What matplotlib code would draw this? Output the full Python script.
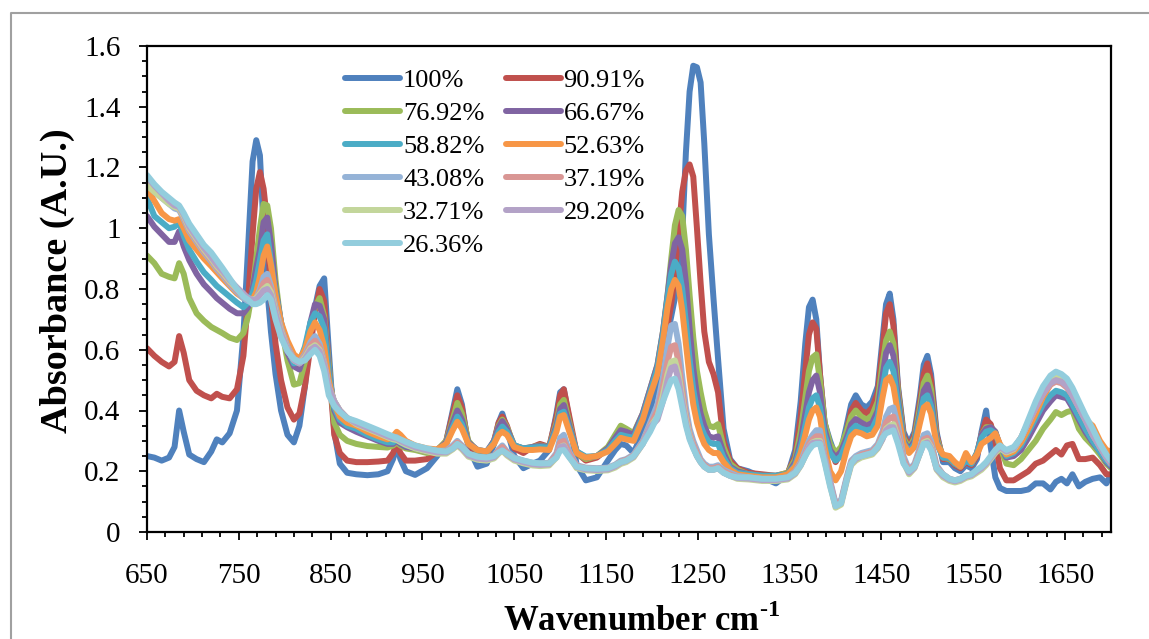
import matplotlib
matplotlib.use("Agg")
import matplotlib.pyplot as plt
from matplotlib.lines import Line2D
from matplotlib.ticker import FixedLocator, FuncFormatter
import numpy as np

plt.rcParams["font.family"] = ["Liberation Serif", "DejaVu Serif"]
plt.rcParams["mathtext.fontset"] = "custom"
plt.rcParams["mathtext.rm"] = "Liberation Serif"
plt.rcParams["mathtext.bf"] = "Liberation Serif:bold"

# --------------------------------------------------
# FTIR spectra, absorbance vs. wavenumber (cm-1)
# --------------------------------------------------
wavenumber = [
    650, 658, 666, 674, 680, 685, 690, 696, 704, 712, 720, 726, 732, 740, 748, 755,
    760, 765, 769, 773, 777, 781, 785, 790, 796, 803, 810, 816, 822, 828, 833, 838, 843, 848, 854, 860, 868,
    878, 890, 902, 912, 918, 922, 926, 932, 942, 955, 966, 976, 983, 988, 993, 1000, 1010, 1020, 1028, 1033,
    1037, 1042, 1050, 1060, 1070, 1078, 1088, 1096, 1100, 1104, 1110, 1118, 1128, 1140, 1152, 1160, 1166,
    1172, 1180, 1190, 1198,
    1206, 1212, 1217, 1221, 1225, 1229, 1233, 1237, 1241, 1245, 1249, 1253, 1257, 1262, 1267, 1272, 1278, 1285, 1293,
    1305, 1320, 1335, 1348, 1356, 1362, 1367, 1371, 1375, 1379, 1383, 1388, 1394, 1400, 1406, 1412, 1417, 1422,
    1428, 1434, 1440, 1446, 1451, 1455, 1459, 1463, 1468, 1474, 1480, 1486, 1492, 1496, 1500, 1504, 1510,
    1517, 1524, 1530, 1536, 1542, 1548, 1554, 1559, 1564, 1569, 1574, 1579, 1586, 1594, 1602, 1610, 1618, 1626,
    1634, 1640, 1646, 1652, 1658, 1665, 1672, 1680, 1688, 1695, 1700,
]

abs_100 = [
    .25, .245, .235, .245, .28, .40, .33, .255, .24, .23, .265, .305, .295, .325, .40, .65,
    .93, 1.22, 1.29, 1.24, 1.0, .80, .66, .52, .40, .32, .295, .35, .48, .65, .74, .81, .835, .60, .33, .225, .195,
    .19, .187, .19, .20, .24, .285, .24, .20, .188, .21, .25, .30, .40, .47, .42, .28, .215, .225, .29, .36,
    .39, .34, .25, .21, .225, .235, .27, .39, .46, .47, .37, .22, .17, .18, .235, .27, .29, .285, .26, .33, .40,
    .50, .58, .65, .71, .77, .84, .98, 1.25, 1.45, 1.535, 1.53, 1.48, 1.28, .98, .77, .57, .34, .24, .21,
    .20, .18, .16, .19, .27, .43, .62, .74, .765, .70, .52, .36, .30, .25, .27, .35, .42, .45,
    .42, .41, .43, .48, .63, .75, .785, .70, .48, .33, .29, .33, .45, .55, .58, .52, .33,
    .23, .23, .21, .20, .22, .21, .24, .33, .40, .28, .18, .145, .135, .135, .135, .14, .16, .16,
    .14, .165, .175, .16, .19, .15, .165, .175, .18, .16, .19,
]

abs_9091 = [
    .605, .58, .56, .545, .56, .645, .59, .50, .465, .45, .44, .455, .445, .44, .47, .58,
    .76, .98, 1.13, 1.185, 1.13, 1.02, .77, .62, .50, .41, .37, .39, .48, .61, .72, .80, .76, .55, .32, .26, .235,
    .23, .23, .232, .235, .26, .29, .26, .235, .235, .24, .265, .30, .39, .45, .41, .29, .255, .255, .30, .36,
    .38, .35, .275, .26, .28, .29, .28, .38, .45, .47, .38, .26, .235, .245, .275, .31, .345, .335, .315, .38, .46,
    .53, .60, .68, .75, .85, .99, 1.12, 1.19, 1.21, 1.17, 1.0, .82, .66, .56, .52, .46, .30, .235, .21,
    .195, .19, .185, .195, .25, .38, .53, .65, .69, .67, .52, .36, .28, .23, .26, .33, .40, .425,
    .40, .39, .41, .46, .60, .72, .75, .68, .47, .32, .28, .32, .43, .52, .555, .50, .32,
    .24, .24, .22, .21, .23, .22, .25, .32, .37, .355, .30, .21, .17, .17, .185, .20, .225, .235,
    .255, .27, .255, .285, .29, .24, .24, .245, .22, .19, .19,
]

abs_7692 = [
    .91, .885, .85, .84, .835, .885, .85, .77, .72, .695, .675, .665, .655, .64, .632, .655,
    .71, .80, .90, 1.0, 1.08, 1.075, 1.0, .83, .68, .565, .485, .49, .56, .67, .74, .77, .71, .55, .36, .32, .30,
    .29, .283, .28, .278, .285, .295, .285, .275, .27, .26, .27, .30, .37, .425, .39, .30, .265, .26, .30, .35,
    .37, .345, .285, .275, .28, .285, .28, .36, .42, .435, .36, .26, .24, .25, .28, .32, .35, .34, .325, .39, .47,
    .55, .66, .78, .90, 1.01, 1.06, 1.04, .93, .78, .64, .53, .46, .40, .35, .345, .355, .28, .225, .205,
    .19, .185, .185, .195, .24, .33, .44, .53, .575, .585, .50, .36, .29, .26, .28, .33, .38, .40,
    .38, .37, .385, .43, .55, .63, .66, .62, .46, .31, .275, .31, .41, .49, .515, .47, .31,
    .245, .24, .225, .215, .235, .225, .26, .32, .345, .345, .33, .28, .225, .22, .24, .27, .30, .34,
    .37, .395, .385, .395, .40, .34, .31, .285, .255, .225, .21,
]

abs_6667 = [
    1.04, 1.005, .98, .955, .955, .99, .94, .895, .85, .815, .79, .77, .755, .735, .72, .72,
    .74, .80, .87, .93, 1.02, 1.035, .95, .80, .69, .59, .545, .535, .59, .69, .75, .745, .70, .53, .40, .36, .345,
    .33, .315, .30, .29, .29, .30, .29, .28, .275, .265, .27, .295, .36, .40, .37, .295, .27, .265, .30, .345,
    .365, .34, .285, .275, .28, .283, .28, .35, .405, .418, .35, .265, .245, .25, .275, .31, .335, .33, .32, .39, .47,
    .55, .66, .78, .88, .95, .97, .93, .82, .67, .54, .45, .39, .35, .315, .31, .315, .26, .215, .20,
    .19, .185, .185, .19, .23, .30, .39, .46, .50, .515, .46, .34, .27, .245, .265, .31, .355, .372,
    .36, .35, .36, .40, .51, .59, .615, .58, .44, .30, .27, .30, .39, .465, .485, .44, .30,
    .245, .245, .225, .215, .235, .225, .26, .32, .34, .345, .33, .285, .245, .25, .27, .31, .355, .40,
    .43, .45, .445, .44, .41, .37, .33, .295, .265, .23, .215,
]

abs_5882 = [
    1.10, 1.04, 1.02, 1.0, 1.005, 1.02, .975, .93, .89, .855, .83, .81, .795, .775, .755, .74,
    .755, .785, .83, .895, .96, .98, .89, .79, .69, .61, .555, .56, .61, .69, .72, .71, .67, .52, .41, .37, .35,
    .34, .32, .305, .295, .295, .305, .295, .285, .278, .268, .27, .29, .345, .38, .355, .29, .27, .265, .295, .33,
    .347, .33, .285, .275, .278, .28, .278, .34, .39, .396, .34, .265, .248, .25, .27, .30, .32, .315, .31, .38, .46,
    .54, .65, .77, .85, .89, .87, .80, .69, .57, .47, .40, .35, .32, .295, .29, .29, .245, .21, .195,
    .19, .185, .185, .19, .22, .28, .35, .41, .44, .45, .41, .32, .26, .235, .25, .295, .335, .35,
    .34, .335, .34, .38, .47, .54, .56, .53, .42, .295, .265, .29, .38, .44, .45, .415, .295,
    .245, .245, .225, .215, .235, .225, .26, .31, .33, .335, .325, .285, .25, .26, .285, .33, .375, .42,
    .45, .465, .46, .45, .42, .38, .34, .30, .265, .235, .22,
]

abs_5263 = [
    1.13, 1.09, 1.05, 1.03, 1.025, 1.03, 1.0, .96, .93, .90, .875, .855, .835, .81, .785, .77,
    .765, .765, .79, .84, .91, .94, .88, .78, .69, .63, .585, .57, .60, .66, .69, .665, .61, .50, .42, .38, .36,
    .35, .33, .315, .305, .315, .33, .32, .30, .285, .275, .272, .29, .335, .363, .34, .29, .27, .265, .29, .32,
    .33, .32, .28, .27, .27, .272, .27, .33, .38, .385, .33, .26, .245, .25, .265, .29, .31, .305, .30, .37, .45,
    .52, .63, .74, .80, .83, .81, .73, .62, .51, .42, .36, .32, .29, .27, .26, .26, .23, .205, .19,
    .185, .18, .18, .19, .215, .26, .32, .37, .40, .41, .38, .28, .20, .17, .20, .27, .315, .33,
    .325, .315, .32, .35, .44, .50, .51, .48, .39, .29, .26, .28, .36, .41, .42, .39, .29,
    .255, .25, .23, .215, .26, .23, .255, .29, .30, .31, .325, .29, .255, .265, .295, .34, .39, .445,
    .485, .505, .50, .48, .45, .41, .37, .35, .30, .27, .265,
]

abs_4308 = [
    1.16, 1.12, 1.10, 1.08, 1.065, 1.06, 1.03, .99, .955, .92, .89, .865, .845, .815, .79, .77,
    .76, .755, .77, .80, .84, .85, .81, .74, .67, .61, .57, .56, .585, .625, .645, .62, .56, .48, .43, .40, .375,
    .36, .345, .33, .318, .312, .312, .303, .295, .283, .273, .267, .268, .285, .30, .285, .258, .248, .245, .252, .272,
    .285, .265, .245, .235, .228, .226, .228, .26, .31, .32, .265, .22, .212, .21, .212, .222, .235, .24, .255, .30, .36,
    .42, .51, .61, .68, .685, .62, .51, .41, .34, .30, .27, .24, .225, .215, .215, .22, .205, .195, .185,
    .18, .175, .175, .18, .20, .23, .27, .30, .32, .335, .335, .25, .17, .095, .105, .18, .235, .25,
    .26, .265, .27, .29, .33, .38, .405, .41, .35, .25, .205, .225, .28, .32, .325, .30, .22,
    .19, .175, .17, .175, .185, .19, .20, .21, .225, .245, .265, .28, .265, .275, .31, .36, .41, .455,
    .49, .50, .495, .48, .45, .41, .37, .32, .28, .245, .225,
]

abs_3719 = [
    1.15, 1.125, 1.105, 1.085, 1.07, 1.065, 1.035, .995, .96, .925, .895, .87, .85, .82, .795, .775,
    .765, .76, .77, .79, .82, .83, .80, .73, .665, .605, .57, .56, .58, .615, .63, .61, .555, .48, .43, .40, .375,
    .36, .345, .33, .318, .312, .31, .302, .293, .282, .272, .266, .266, .28, .295, .282, .256, .246, .243, .25, .268,
    .28, .262, .243, .233, .226, .224, .226, .255, .295, .30, .258, .218, .21, .208, .21, .22, .232, .238, .252, .295, .35,
    .40, .48, .56, .61, .615, .56, .47, .385, .325, .29, .26, .235, .22, .21, .21, .215, .20, .19, .18,
    .178, .173, .173, .178, .197, .225, .26, .29, .305, .315, .315, .245, .165, .09, .10, .175, .23, .245,
    .255, .26, .265, .285, .32, .36, .375, .38, .33, .24, .20, .22, .27, .305, .31, .29, .215,
    .19, .175, .17, .175, .185, .19, .20, .21, .225, .245, .265, .28, .265, .275, .31, .36, .41, .455,
    .485, .495, .49, .475, .45, .41, .37, .32, .28, .245, .225,
]

abs_3271 = [
    1.14, 1.12, 1.10, 1.08, 1.07, 1.065, 1.04, 1.0, .965, .93, .90, .875, .855, .825, .80, .78,
    .77, .765, .77, .785, .80, .81, .79, .725, .66, .60, .565, .555, .575, .605, .615, .60, .55, .475, .43, .40, .375,
    .355, .34, .325, .312, .305, .303, .296, .287, .275, .265, .258, .258, .272, .285, .272, .248, .238, .235, .242, .258,
    .268, .252, .235, .226, .219, .217, .219, .245, .28, .285, .248, .21, .203, .201, .203, .212, .224, .23, .245, .29, .345,
    .38, .45, .52, .56, .565, .52, .44, .37, .315, .28, .25, .23, .215, .205, .205, .21, .195, .185, .175,
    .173, .168, .168, .173, .19, .218, .25, .28, .295, .30, .30, .235, .155, .08, .09, .165, .22, .235,
    .245, .25, .255, .275, .305, .34, .35, .355, .31, .23, .19, .21, .26, .295, .30, .28, .205,
    .18, .168, .163, .168, .178, .183, .195, .205, .22, .24, .26, .275, .262, .272, .31, .36, .415, .46,
    .495, .51, .505, .49, .46, .42, .375, .325, .285, .25, .23,
]

abs_2920 = [
    1.17, 1.14, 1.115, 1.09, 1.075, 1.07, 1.045, 1.005, .97, .935, .905, .88, .86, .83, .805, .785,
    .77, .765, .765, .78, .795, .80, .78, .72, .655, .60, .565, .555, .57, .60, .61, .595, .55, .475, .43, .40, .375,
    .358, .343, .328, .315, .309, .307, .30, .291, .279, .269, .262, .262, .275, .288, .276, .252, .242, .239, .246, .262,
    .27, .256, .239, .23, .223, .221, .223, .248, .28, .283, .25, .214, .206, .204, .206, .216, .228, .234, .248, .29, .345,
    .37, .43, .50, .54, .545, .50, .43, .36, .31, .28, .25, .23, .215, .205, .205, .21, .195, .185, .178,
    .176, .171, .171, .176, .193, .22, .252, .28, .293, .295, .295, .24, .16, .085, .095, .17, .225, .24,
    .25, .255, .26, .278, .305, .335, .345, .345, .305, .23, .195, .212, .26, .29, .295, .275, .208,
    .185, .172, .167, .172, .182, .187, .20, .21, .225, .245, .265, .28, .265, .275, .31, .36, .41, .455,
    .49, .50, .495, .48, .45, .41, .37, .32, .28, .245, .225,
]

abs_2636 = [
    1.175, 1.145, 1.12, 1.10, 1.085, 1.075, 1.05, 1.015, .98, .945, .92, .895, .87, .835, .80, .775,
    .765, .75, .75, .755, .765, .78, .765, .70, .64, .595, .57, .56, .565, .585, .60, .58, .53, .45, .415, .395, .375,
    .365, .35, .335, .322, .315, .31, .305, .297, .285, .275, .268, .265, .275, .29, .28, .258, .248, .245, .25, .262,
    .268, .258, .243, .235, .228, .226, .226, .245, .268, .27, .245, .215, .21, .208, .21, .22, .23, .235, .25, .29, .33,
    .38, .43, .47, .50, .505, .47, .41, .35, .305, .275, .25, .23, .215, .205, .205, .21, .195, .185, .18,
    .18, .175, .175, .18, .195, .22, .25, .27, .285, .29, .29, .23, .15, .085, .095, .17, .225, .245,
    .25, .255, .26, .28, .31, .325, .33, .335, .29, .225, .20, .215, .26, .29, .29, .27, .21,
    .19, .175, .17, .175, .185, .19, .205, .215, .23, .25, .27, .285, .27, .28, .31, .37, .43, .48,
    .515, .528, .52, .505, .475, .43, .385, .34, .29, .255, .235,
]

series = [abs_100, abs_9091, abs_7692, abs_6667, abs_5882, abs_5263,
          abs_4308, abs_3719, abs_3271, abs_2920, abs_2636]
labels = ["100%", "90.91%", "76.92%", "66.67%", "58.82%", "52.63%",
          "43.08%", "37.19%", "32.71%", "29.20%", "26.36%"]
colors = ["#4F81BD", "#C0504D", "#9BBB59", "#8064A2", "#4BACC6", "#F79646",
          "#95B3D7", "#D99694", "#C3D69B", "#B3A2C7", "#93CDDD"]

for ys in series:
    assert len(ys) == len(wavenumber), len(ys)

# --------------------------------------------------
# Plot
# --------------------------------------------------
W, H = 1149, 639
fig = plt.figure(figsize=(W / 100, H / 100), dpi=100)
ax = fig.add_axes([147 / W, 1 - 532 / H, (1111 - 147) / W, (532 - 46) / H])

for ys, lab, col in zip(series, labels, colors):
    ax.plot(wavenumber, ys, color=col, lw=4.3, label=lab,
            solid_joinstyle="round", solid_capstyle="round")

ax.set_xlim(650, 1700)
ax.set_ylim(0, 1.6)

ax.xaxis.set_major_locator(FixedLocator(np.arange(650, 1700, 100)))
ax.xaxis.set_minor_locator(FixedLocator(np.arange(650, 1701, 20)))
ax.yaxis.set_major_locator(FixedLocator(np.arange(0, 1.61, 0.2)))
ax.yaxis.set_minor_locator(FixedLocator(np.arange(0, 1.61, 0.05)))
ax.yaxis.set_major_formatter(FuncFormatter(lambda v, p: f"{v:g}"))

ax.tick_params(which="both", direction="out", width=1.3, colors="black",
               top=False, right=False, labelsize=21)
ax.tick_params(which="major", length=6)
ax.tick_params(which="minor", length=3.5)
ax.tick_params(axis="x", pad=16.5)
ax.tick_params(axis="y", pad=13)

for sp in ax.spines.values():
    sp.set_linewidth(1.6)
    sp.set_color("black")

fig.text(57 / W, 1 - 281 / H, "Absorbance (A.U.)", rotation=90,
         ha="center", va="center", fontsize=27.5, fontweight="bold")
fig.text(642 / W, 1 - 622 / H, r"Wavenumber cm$^{\mathbf{\text{-}1}}$",
         ha="center", va="center", fontsize=25, fontweight="bold")

# legend filled row by row, two columns
handles, labs = ax.get_legend_handles_labels()
order = [0, 2, 4, 6, 8, 10, 1, 3, 5, 7, 9]
ax.legend([handles[i] for i in order], [labs[i] for i in order],
          ncol=2, loc="upper left", bbox_to_anchor=(345 / W, 1 - 69 / H),
          bbox_transform=fig.transFigure, frameon=False, fontsize=19,
          handlelength=2.1, handletextpad=0.1, columnspacing=0.8,
          labelspacing=0.36, borderpad=0, borderaxespad=0)

# chart border
fig.add_artist(Line2D([11 / W, 11 / W, 1.0], [0, 1 - 13 / H, 1 - 13 / H],
                      transform=fig.transFigure, color="#A0A0A0", lw=1.5))

fig.savefig("out.png", dpi=100)
